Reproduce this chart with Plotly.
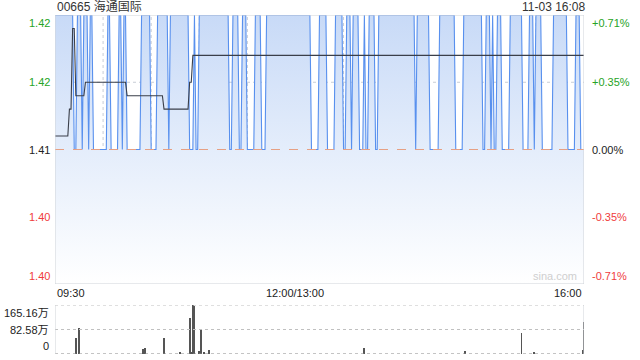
import plotly.graph_objects as go

# ---------------- data ----------------
title_text = "00665 海通国际"
timestamp_text = "11-03 16:08"
prev_close = 1.41
price_lo, price_hi = 1.40, 1.42

# minute-by-minute last price, as runs of (price, minutes), 09:30 -> 16:00 (331 points)
price_runs = [
    (1.42, 12), (1.41, 2), (1.42, 3), (1.41, 1), (1.42, 3), (1.41, 1), (1.42, 2),
    (1.41, 9), (1.42, 2), (1.41, 5), (1.42, 2), (1.41, 1), (1.42, 2), (1.41, 9),
    (1.42, 6), (1.41, 4), (1.42, 7), (1.41, 1), (1.42, 12), (1.41, 3), (1.42, 1),
    (1.41, 2), (1.42, 19), (1.41, 2), (1.42, 4), (1.41, 2), (1.42, 3), (1.41, 5),
    (1.42, 4), (1.41, 3), (1.42, 28), (1.41, 5), (1.42, 5), (1.41, 5), (1.42, 5),
    (1.41, 2), (1.42, 3), (1.41, 1), (1.42, 4), (1.41, 3), (1.42, 1), (1.41, 2),
    (1.42, 4), (1.41, 2), (1.42, 23), (1.41, 1), (1.42, 8), (1.41, 6), (1.42, 10),
    (1.41, 5), (1.42, 12), (1.41, 2), (1.42, 3), (1.41, 1), (1.42, 1), (1.41, 2),
    (1.42, 3), (1.41, 5), (1.42, 8), (1.41, 4), (1.42, 3), (1.41, 1), (1.42, 4),
    (1.41, 7), (1.42, 9), (1.41, 5), (1.42, 3), (1.41, 3),
]
# average price line, as runs of (price, minutes)
avg_runs = [
    (1.411, 9), (1.413, 2), (1.419, 2), (1.414, 6), (1.415, 26),
    (1.414, 23), (1.413, 16), (1.415, 2), (1.417, 245),
]
# volume (万股) at minute index
vol_minutes = [13, 15, 55, 56, 68, 78, 84, 85, 86, 87, 90, 91, 93, 96, 193, 256, 291, 299, 329, 330]
vol_values = [55, 88.6, 17, 21, 55, 8, 122, 5, 165.16, 163, 10, 81, 4, 13, 21, 10, 72, 4, 13, 108]
vol_max = 165.16

left_ticks = [1.42, 1.415, 1.41, 1.405, 1.40]
left_labels = ["1.42", "1.42", "1.41", "1.40", "1.40"]
right_labels = ["+0.71%", "+0.35%", "0.00%", "-0.35%", "-0.71%"]
vol_ticks = [165.16, 82.58, 0]
vol_labels = ["165.16万", "82.58万", "0"]
time_ticks = [0, 150, 330]
time_labels = ["09:30", "12:00/13:00", "16:00"]
grid_minutes = [30, 60, 90, 120, 150, 180, 210, 240, 270, 300]

# ---------------- build ----------------
price = []
for p, n in price_runs:
    price += [p] * n
avg = []
for p, n in avg_runs:
    avg += [p] * n
xs = list(range(len(price)))

GREEN = "#26a326"
RED = "#f03c3c"
BLACK = "#222222"
FONT = "Liberation Sans, Arial, Noto Sans CJK SC, sans-serif"

W, H = 640, 360
ml, mr, mt, mb = 55, 56, 15, 6
ph = H - mt - mb


def py(pix):  # pixel y -> paper y
    return (H - mb - pix) / ph


price_dom = [py(284), 1.0]
vol_dom = [0.0, py(305)]

fig = go.Figure()

# baseline for fill
fig.add_trace(go.Scatter(x=xs, y=[price_lo] * len(xs), mode="lines",
                         line=dict(width=0), hoverinfo="skip", showlegend=False,
                         xaxis="x", yaxis="y"))
fig.add_trace(go.Scatter(
    x=xs, y=price, mode="lines", fill="tonexty",
    fillgradient=dict(type="vertical", start=price_lo, stop=price_hi,
                      colorscale=[[0, "rgba(255,255,255,1)"], [0.5, "#e4edfb"], [1, "#c8daf7"]]),
    line=dict(color="rgb(88,144,238)", width=1.1),
    showlegend=False, xaxis="x", yaxis="y"))
fig.add_trace(go.Scatter(x=xs, y=avg, mode="lines",
                         line=dict(color="#3a3f4a", width=1.1),
                         showlegend=False, xaxis="x", yaxis="y"))
fig.add_trace(go.Bar(x=vol_minutes, y=vol_values, width=0.5,
                     marker=dict(color="#555555", line=dict(width=0)),
                     showlegend=False, xaxis="x2", yaxis="y2"))

shapes = []
# vertical grid in price panel
for m in grid_minutes:
    shapes.append(dict(type="line", xref="x", yref="y", x0=m, x1=m, y0=price_lo, y1=price_hi,
                       line=dict(color="#c8cdd6", width=1, dash="dot"), layer="below"))
for v in [1.415, 1.405]:
    shapes.append(dict(type="line", xref="x", yref="y", x0=0, x1=330, y0=v, y1=v,
                       line=dict(color="#c8cdd6", width=1, dash="dot"), layer="below"))
shapes.append(dict(type="line", xref="x", yref="y", x0=0, x1=330, y0=prev_close, y1=prev_close,
                   line=dict(color="#e6a084", width=1, dash="dash"), layer="above"))
# price panel border
shapes.append(dict(type="rect", xref="x", yref="y", x0=0, x1=330, y0=price_lo, y1=price_hi,
                   line=dict(color="#cfd3d8", width=1), layer="above"))
# volume panel lines
for v in [vol_max, vol_max / 2]:
    shapes.append(dict(type="line", xref="x2", yref="y2", x0=0, x1=330, y0=v, y1=v,
                       line=dict(color="#c0c0c0", width=1, dash="dot")))
shapes.append(dict(type="line", xref="x2", yref="y2", x0=0, x1=330, y0=0, y1=0,
                   line=dict(color="#888888", width=1, dash="dot")))
for xv in [0, 330]:
    shapes.append(dict(type="line", xref="x2", yref="y2", x0=xv, x1=xv, y0=0, y1=vol_max,
                       line=dict(color="#cfd3d8", width=1)))

ann = []
colors = [GREEN, GREEN, BLACK, RED, RED]
anchors = ["top", "middle", "middle", "middle", "bottom"]
for v, ll, rl, c, a in zip(left_ticks, left_labels, right_labels, colors, anchors):
    ann.append(dict(xref="paper", yref="y", x=-0.006, y=v, text=ll, showarrow=False,
                    xanchor="right", yanchor=a, font=dict(color=c, size=11, family=FONT)))
    ann.append(dict(xref="paper", yref="y", x=1.011, y=v, text=rl, showarrow=False,
                    xanchor="left", yanchor=a, font=dict(color=c, size=11, family=FONT)))
for v, lab, a in zip(vol_ticks, vol_labels, ["top", "middle", "bottom"]):
    ann.append(dict(xref="paper", yref="y2", x=-0.008, y=v, text=lab, showarrow=False,
                    xanchor="right", yanchor=a, font=dict(color=BLACK, size=11, family=FONT)))
for t, lab, xa in zip(time_ticks, time_labels, ["left", "center", "right"]):
    ann.append(dict(xref="x", yref="paper", x=t, y=py(293), text=lab, showarrow=False,
                    xanchor=xa, yanchor="middle", font=dict(color=BLACK, size=11, family=FONT)))
ann.append(dict(xref="paper", yref="paper", x=0, y=py(7), text=title_text, showarrow=False,
                xanchor="left", yanchor="middle", font=dict(color="#333333", size=12, family=FONT)))
ann.append(dict(xref="paper", yref="paper", x=1.006, y=py(7), text=timestamp_text, showarrow=False,
                xanchor="right", yanchor="middle", font=dict(color="#333333", size=12, family=FONT)))
ann.append(dict(xref="x", yref="y", x=312, y=price_lo, text="sina.com", showarrow=False,
                xanchor="center", yanchor="bottom", font=dict(color="#cfcfcf", size=11, family=FONT)))

fig.update_layout(
    width=W, height=H, margin=dict(l=ml, r=mr, t=mt, b=mb),
    paper_bgcolor="white", plot_bgcolor="white",
    xaxis=dict(domain=[0, 1], range=[0, 330], showgrid=False, zeroline=False,
               showticklabels=False, showline=False, anchor="y"),
    yaxis=dict(domain=price_dom, range=[price_lo, price_hi], showgrid=False, zeroline=False,
               showticklabels=False, showline=False, anchor="x"),
    xaxis2=dict(domain=[0, 1], range=[0, 330], showgrid=False, zeroline=False,
                showticklabels=False, showline=False, anchor="y2"),
    yaxis2=dict(domain=vol_dom, range=[0, vol_max], showgrid=False, zeroline=False,
                showticklabels=False, showline=False, anchor="x2"),
    shapes=shapes, annotations=ann, bargap=0,
)

fig.write_html("out.html", config={"displayModeBar": False},
               post_script="document.body.style.margin='0px';document.body.style.overflow='hidden';")
